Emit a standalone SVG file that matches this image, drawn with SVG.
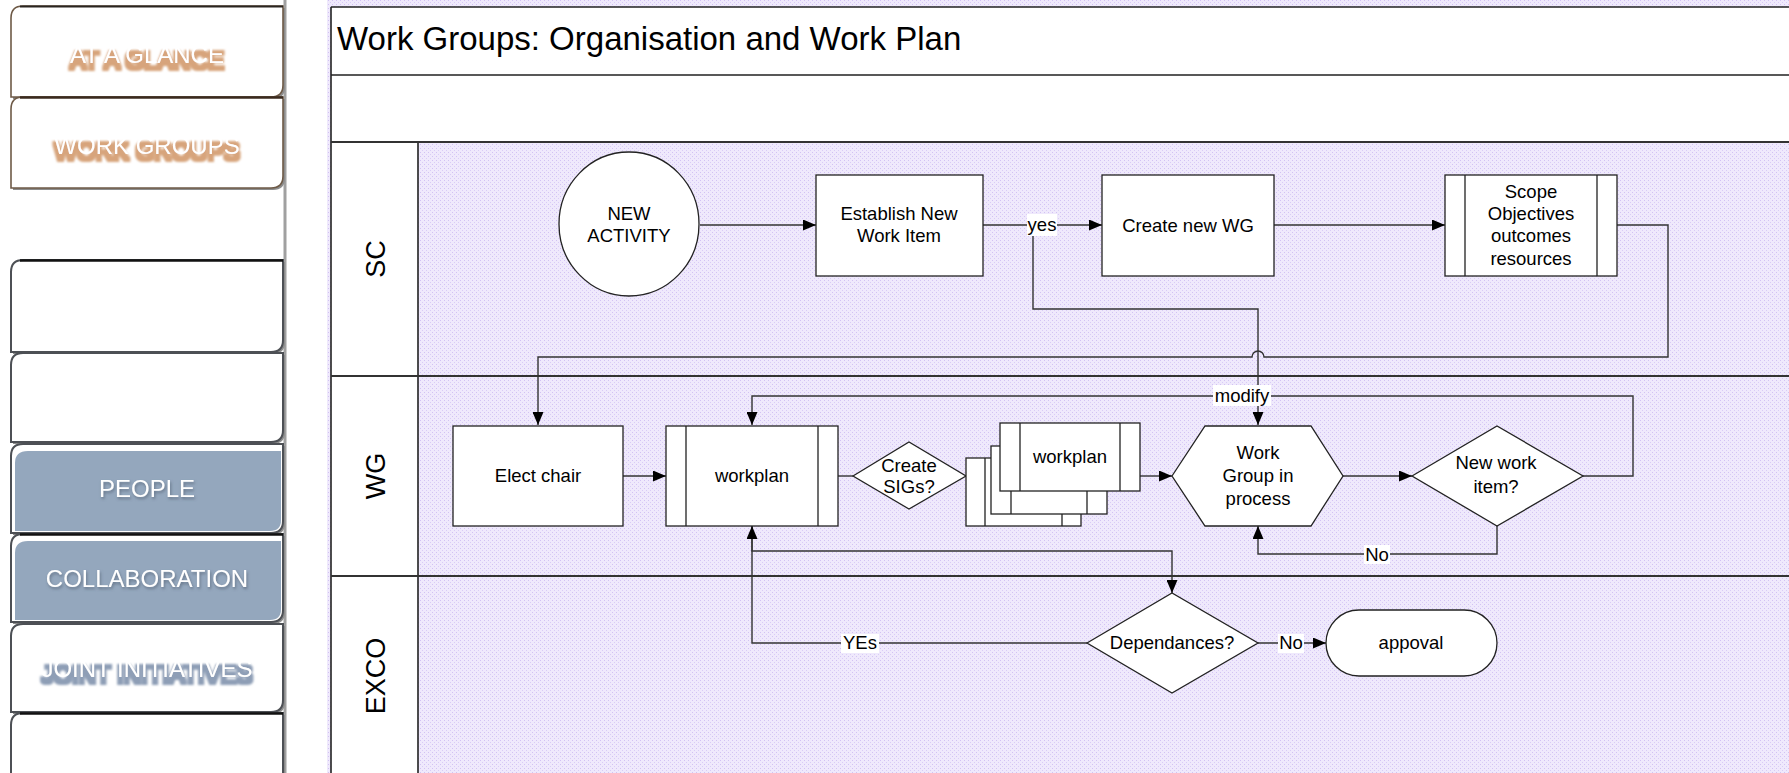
<svg xmlns="http://www.w3.org/2000/svg" width="1789" height="773" viewBox="0 0 1789 773">
<style>
.t{font-family:"Liberation Sans",Arial,sans-serif;fill:#000;text-anchor:middle}
.n{font-size:18.5px}
.node{fill:#fff;stroke:#222;stroke-width:1.3}
.bar{stroke:#222;stroke-width:1.3;fill:none}
.c{fill:none;stroke:#333;stroke-width:1.4}
.lbl{fill:#fff}
.frame{stroke:#222;stroke-width:1.6;fill:none}
.sep{stroke:#333;stroke-width:2.2;fill:none}
.lane{font-family:"Liberation Sans",Arial,sans-serif;font-size:27px;text-anchor:middle;fill:#000}
.tab{fill:#fff;stroke:#4d5055;stroke-width:2}
.tabb{fill:#fff;stroke:#6e5a47;stroke-width:1.6}
.tsh{fill:#8c8c8c}
.st{font-family:"Liberation Sans",Arial,sans-serif;font-size:24px;text-anchor:middle;fill:#fff}
</style>
<defs>
<pattern id="dots" width="4" height="4" patternUnits="userSpaceOnUse">
<rect width="4" height="4" fill="#EFE9FC"/>
<rect x="0" y="0" width="1" height="1" fill="#D2C2F3"/>
<rect x="2" y="2" width="1" height="1" fill="#D9CCF6"/>
</pattern>
<marker id="arr" markerUnits="userSpaceOnUse" markerWidth="13" markerHeight="11" refX="13" refY="5.5" orient="auto">
<path d="M0,0 L13,5.5 L0,11 Z" fill="#000"/>
</marker>
<filter id="tanSh" x="-10%" y="-40%" width="120%" height="200%">
<feMorphology in="SourceAlpha" operator="dilate" radius="2" result="d"/>
<feOffset in="d" dx="0" dy="6" result="o"/>
<feGaussianBlur in="o" stdDeviation="0.8" result="ob"/>
<feFlood flood-color="#D7A47B"/>
<feComposite in2="ob" operator="in" result="s"/>
<feMerge><feMergeNode in="s"/><feMergeNode in="SourceGraphic"/></feMerge>
</filter>
<filter id="bluSh" x="-10%" y="-40%" width="120%" height="200%">
<feMorphology in="SourceAlpha" operator="dilate" radius="2" result="d"/>
<feOffset in="d" dx="0" dy="6" result="o"/>
<feGaussianBlur in="o" stdDeviation="0.8" result="ob"/>
<feFlood flood-color="#8E9EB6"/>
<feComposite in2="ob" operator="in" result="s"/>
<feMerge><feMergeNode in="s"/><feMergeNode in="SourceGraphic"/></feMerge>
</filter>
<filter id="dropSh" x="-10%" y="-40%" width="120%" height="200%">
<feGaussianBlur in="SourceAlpha" stdDeviation="1.5" result="b"/>
<feOffset in="b" dx="1" dy="2" result="o"/>
<feFlood flood-color="#4f5d70" flood-opacity="0.7"/>
<feComposite in2="o" operator="in" result="s"/>
<feMerge><feMergeNode in="s"/><feMergeNode in="SourceGraphic"/></feMerge>
</filter>
</defs>

<rect width="1789" height="773" fill="#fff"/>

<!-- sidebar -->
<g id="sidebar">
<line x1="285" y1="0" x2="285" y2="773" stroke="#a0a0a0" stroke-width="3"/>
<g id="tab-at-a-glance">
<path class="tsh" d="M13,20 Q13,8 25,8 L285,8 L285,87 Q285,99 273,99 L13,99 Z"/>
<path class="tabb" d="M11,18 Q11,6 23,6 L283,6 L283,85 Q283,97 271,97 L11,97 Z"/>
<line x1="20" y1="6.5" x2="283" y2="6.5" stroke="#2a2520" stroke-width="2"/>
<text class="st" x="147" y="63" filter="url(#tanSh)">AT A GLANCE</text>
</g>
<g id="tab-work-groups">
<path class="tsh" d="M13,111 Q13,99 25,99 L285,99 L285,178 Q285,190 273,190 L13,190 Z"/>
<path class="tabb" d="M11,109 Q11,97 23,97 L283,97 L283,176 Q283,188 271,188 L11,188 Z"/>
<line x1="20" y1="97.5" x2="283" y2="97.5" stroke="#3a2a1e" stroke-width="2.5"/>
<text class="st" x="147" y="154" filter="url(#tanSh)">WORK GROUPS</text>
</g>
<g id="tab-3">
<path class="tsh" d="M13,274 Q13,262 25,262 L285,262 L285,342 Q285,354 273,354 L13,354 Z"/>
<path class="tab" d="M11,272 Q11,260 23,260 L283,260 L283,340 Q283,352 271,352 L11,352 Z"/>
<line x1="20" y1="260.5" x2="283" y2="260.5" stroke="#111" stroke-width="2.5"/>
</g>
<g id="tab-4">
<path class="tsh" d="M13,367 Q13,355 25,355 L285,355 L285,432 Q285,444 273,444 L13,444 Z"/>
<path class="tab" d="M11,365 Q11,353 23,353 L283,353 L283,430 Q283,442 271,442 L11,442 Z"/>
</g>
<g id="tab-people">
<path class="tsh" d="M13,458 Q13,446 25,446 L285,446 L285,523 Q285,535 273,535 L13,535 Z"/>
<path class="tab" d="M11,456 Q11,444 23,444 L283,444 L283,521 Q283,533 271,533 L11,533 Z"/>
<path d="M15,463 Q15,451 28,451 L281,451 L281,520 Q281,531 270,531 L15,531 Z" fill="#94A7BD"/>
<text class="st" x="147" y="497" filter="url(#dropSh)">PEOPLE</text>
</g>
<g id="tab-collaboration">
<path class="tsh" d="M13,548 Q13,536 25,536 L285,536 L285,612 Q285,624 273,624 L13,624 Z"/>
<path class="tab" d="M11,546 Q11,534 23,534 L283,534 L283,610 Q283,622 271,622 L11,622 Z"/>
<line x1="20" y1="534.5" x2="283" y2="534.5" stroke="#111" stroke-width="2.5"/>
<path d="M15,553 Q15,541 28,541 L281,541 L281,609 Q281,620 270,620 L15,620 Z" fill="#94A7BD"/>
<text class="st" x="147" y="587" filter="url(#dropSh)">COLLABORATION</text>
</g>
<g id="tab-joint-initiatives">
<path class="tsh" d="M13,638 Q13,626 25,626 L285,626 L285,702 Q285,714 273,714 L13,714 Z"/>
<path class="tab" d="M11,636 Q11,624 23,624 L283,624 L283,700 Q283,712 271,712 L11,712 Z"/>
<text class="st" x="147" y="677" filter="url(#bluSh)">JOINT INITIATIVES</text>
</g>
<g id="tab-8">
<path class="tsh" d="M13,727 Q13,715 25,715 L285,715 L285,800 L13,800 Z"/>
<path class="tab" d="M11,725 Q11,713 23,713 L283,713 L283,800 L11,800 Z"/>
<line x1="20" y1="713.5" x2="283" y2="713.5" stroke="#111" stroke-width="2.5"/>
</g>
</g>

<!-- pool -->
<g id="pool">
<rect x="327" y="0" width="1462" height="773" fill="url(#dots)"/>
<rect x="331" y="7" width="1458" height="135" fill="#fff"/>
<rect x="331" y="142" width="87" height="631" fill="#fff"/>
<path class="frame" d="M331,7 H1789 M331,7 V773 M331,75 H1789 M418,142 V773"/>
<path class="sep" d="M331,142 H1789 M331,376 H1789 M331,576 H1789"/>
<text class="t" x="337" y="50" font-size="33" style="text-anchor:start">Work Groups: Organisation and Work Plan</text>
<text class="lane" transform="translate(385,259) rotate(-90)">SC</text>
<text class="lane" transform="translate(385,476) rotate(-90)">WG</text>
<text class="lane" transform="translate(385,676) rotate(-90)">EXCO</text>
</g>

<!-- connectors -->
<g id="connectors">
<path class="c" d="M700,225 L816,225" marker-end="url(#arr)"/>
<path class="c" d="M983,225 L1102,225" marker-end="url(#arr)"/>
<path class="c" d="M1033,225 L1033,309 L1258,309 L1258,425" marker-end="url(#arr)"/>
<path class="c" d="M1274,225 L1445,225" marker-end="url(#arr)"/>
<path class="c" d="M1617,225 L1668,225 L1668,357 L1264,357 A6,6 0 0 0 1252,357 L538,357 L538,425" marker-end="url(#arr)"/>
<path class="c" d="M623,476 L666,476" marker-end="url(#arr)"/>
<path class="c" d="M838,476 L853,476"/>
<path class="c" d="M1140,476 L1172,476" marker-end="url(#arr)"/>
<path class="c" d="M1343,476 L1412,476" marker-end="url(#arr)"/>
<path class="c" d="M1583,476 L1633,476 L1633,396 L752,396 L752,425" marker-end="url(#arr)"/>
<path class="c" d="M1497,526 L1497,554 L1258,554 L1258,526" marker-end="url(#arr)"/>
<path class="c" d="M752,526 L752,551 L1172,551 L1172,593" marker-end="url(#arr)"/>
<path class="c" d="M1087,643 L752,643 L752,526" marker-end="url(#arr)"/>
<path class="c" d="M1258,643 L1326,643" marker-end="url(#arr)"/>
<rect class="lbl" x="1027" y="214" width="30" height="22"/>
<text class="t n" x="1042" y="231">yes</text>
<rect class="lbl" x="1213" y="385" width="58" height="21"/>
<text class="t n" x="1242" y="402">modify</text>
<rect class="lbl" x="1364" y="545" width="26" height="19"/>
<text class="t n" x="1377" y="561">No</text>
<rect class="lbl" x="841" y="634" width="38" height="19"/>
<text class="t n" x="860" y="649">YEs</text>
<rect class="lbl" x="1278" y="634" width="26" height="19"/>
<text class="t n" x="1291" y="649">No</text>
</g>

<!-- nodes -->
<g id="new-activity">
<ellipse class="node" cx="629" cy="224" rx="70" ry="72"/>
<text class="t n" x="629" y="220">NEW</text>
<text class="t n" x="629" y="242">ACTIVITY</text>
</g>
<g id="establish-new-work-item">
<rect class="node" x="816" y="175" width="167" height="101"/>
<text class="t n" x="899" y="220">Establish New</text>
<text class="t n" x="899" y="242">Work Item</text>
</g>
<g id="create-new-wg">
<rect class="node" x="1102" y="175" width="172" height="101"/>
<text class="t n" x="1188" y="232">Create new WG</text>
</g>
<g id="scope">
<rect class="node" x="1445" y="175" width="172" height="101"/>
<path class="bar" d="M1465,175 V276 M1597,175 V276"/>
<text class="t n" x="1531" y="198">Scope</text>
<text class="t n" x="1531" y="220">Objectives</text>
<text class="t n" x="1531" y="242">outcomes</text>
<text class="t n" x="1531" y="265">resources</text>
</g>
<g id="elect-chair">
<rect class="node" x="453" y="426" width="170" height="100"/>
<text class="t n" x="538" y="482">Elect chair</text>
</g>
<g id="workplan">
<rect class="node" x="666" y="426" width="172" height="100"/>
<path class="bar" d="M686,426 V526 M818,426 V526"/>
<text class="t n" x="752" y="482">workplan</text>
</g>
<g id="create-sigs">
<polygon class="node" points="853,476 909,442 966,476 909,509"/>
<text class="t n" x="909" y="472">Create</text>
<text class="t n" x="909" y="493">SIGs?</text>
</g>
<g id="workplan-stack">
<rect class="node" x="966" y="458" width="115" height="68"/>
<path class="bar" d="M985,458 V526 M1062,458 V526"/>
<rect class="node" x="991" y="446" width="116" height="68"/>
<path class="bar" d="M1011,446 V514 M1087,446 V514"/>
<rect class="node" x="1000" y="423" width="140" height="68"/>
<path class="bar" d="M1020,423 V491 M1120,423 V491"/>
<text class="t n" x="1070" y="463">workplan</text>
</g>
<g id="work-group-in-process">
<polygon class="node" points="1172,476 1205,426 1311,426 1343,476 1311,526 1205,526"/>
<text class="t n" x="1258" y="459">Work</text>
<text class="t n" x="1258" y="482">Group in</text>
<text class="t n" x="1258" y="505">process</text>
</g>
<g id="new-work-item">
<polygon class="node" points="1412,476 1497,426 1583,476 1497,526"/>
<text class="t n" x="1496" y="469">New work</text>
<text class="t n" x="1496" y="493">item?</text>
</g>
<g id="dependances">
<polygon class="node" points="1087,643 1172,593 1258,643 1172,693"/>
<text class="t n" x="1172" y="649">Dependances?</text>
</g>
<g id="appoval">
<rect class="node" x="1326" y="610" width="171" height="66" rx="33" ry="33"/>
<text class="t n" x="1411" y="649">appoval</text>
</g>
</svg>
